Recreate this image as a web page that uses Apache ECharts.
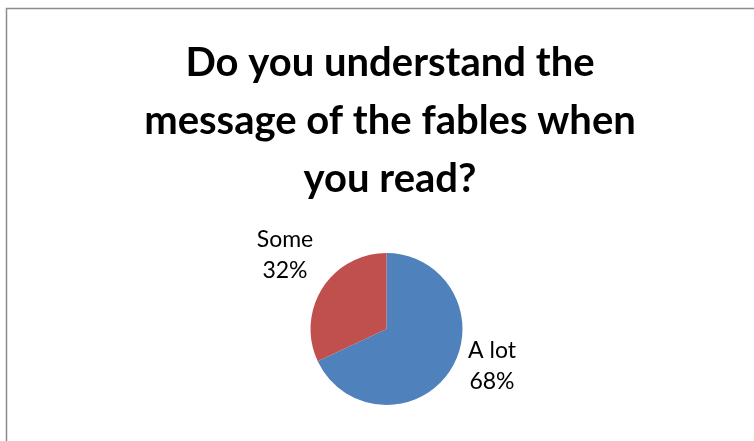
<!DOCTYPE html>
<html>
<head>
<meta charset="utf-8">
<style>
  html, body { margin: 0; padding: 0; background: #ffffff; }
  #chart { width: 754px; height: 441px; }
</style>
<script src="https://cdn.jsdelivr.net/npm/echarts@6/dist/echarts.min.js"></script>
</head>
<body>
<div id="chart"></div>
<script>
// Survey answers and their shares (percent)
const categories = ['A lot', 'Some'];
const shares = [68, 32];
const sliceColors = ['#4f81bd', '#c0504d'];

// Label anchor points for each slice
const labelSpots = [
  { x: 492, y: 366 },
  { x: 285, y: 255 }
];

const chart = echarts.init(document.getElementById('chart'));
chart.setOption({
  backgroundColor: '#ffffff',
  animation: false,
  title: {
    text: 'Do you understand the\nmessage of the fables when\nyou read?',
    left: 385,
    top: 29,
    textAlign: 'center',
    textStyle: {
      fontFamily: 'Lato',
      fontWeight: 'bold',
      fontSize: 40,
      lineHeight: 58,
      color: '#000000'
    }
  },
  graphic: [{
    type: 'rect',
    shape: { x: 6.5, y: 8.5, width: 760, height: 450 },
    style: { fill: 'none', stroke: '#8c8c8c', lineWidth: 1.5 },
    silent: true
  }],
  series: [{
    type: 'pie',
    center: [386.5, 329],
    radius: 76,
    startAngle: 90,
    clockwise: true,
    data: categories.map((name, i) => ({
      name,
      value: shares[i],
      itemStyle: { color: sliceColors[i] }
    })),
    itemStyle: { borderColor: '#ffffff', borderWidth: 0 },
    label: {
      show: true,
      formatter: (p) => p.name + '\n' + p.value + '%',
      fontFamily: 'Lato',
      fontSize: 23,
      lineHeight: 31,
      color: '#000000',
      align: 'center'
    },
    labelLine: { show: false },
    labelLayout: (params) => ({
      x: labelSpots[params.dataIndex].x,
      y: labelSpots[params.dataIndex].y,
      align: 'center',
      verticalAlign: 'middle'
    })
  }]
});
</script>
</body>
</html>
